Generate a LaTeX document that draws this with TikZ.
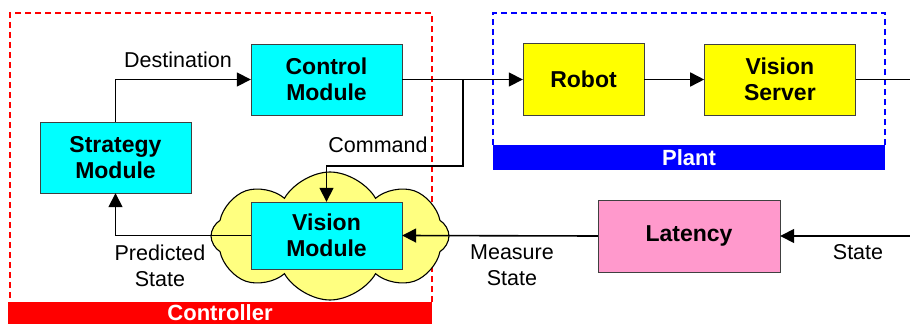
\documentclass[tikz,border=0pt]{standalone}
\usepackage{fontspec}
\setmainfont{Liberation Sans}
\usetikzlibrary{arrows.meta,positioning,shapes.symbols}
\definecolor{boxcyan}{RGB}{0,255,255}
\definecolor{boxyellow}{RGB}{255,255,0}
\definecolor{boxpink}{RGB}{255,153,204}
\definecolor{cloudyellow}{RGB}{255,255,128}
\definecolor{ctrlred}{RGB}{255,0,0}
\definecolor{plantblue}{RGB}{0,0,255}

\begin{document}
\begin{tikzpicture}[x=1pt,y=-1pt,
module/.style={draw=black!75,thin,fill=boxcyan,align=center,inner sep=0pt,minimum width=151pt,minimum height=71pt,font=\fontsize{23}{26}\selectfont\bfseries},
plantbox/.style={module,fill=boxyellow},
tag/.style={align=center,font=\fontsize{21.5}{26}\selectfont},
bar/.style={inner sep=0pt,text=white,font=\fontsize{22}{24}\selectfont\bfseries},
frame/.style={line width=1.1pt,dash pattern=on 6pt off 4pt},
arr/.style={-{Triangle[length=14pt,width=14pt]},line width=1.6pt},
wire/.style={line width=1.6pt}]
\useasboundingbox (0,0) rectangle (910,324);
% controller part
\draw[frame,ctrlred] (432,302) -- (432,13) -- (10,13) -- (10,302);
\node[bar,fill=ctrlred,minimum width=424pt,minimum height=22pt](ctrlbar) at (220,313){Controller};
\node[draw=black,line width=1.1pt,fill=cloudyellow,cloud,cloud puffs=8,cloud puff arc=120,aspect=2,minimum width=238pt,minimum height=128pt,inner sep=0pt](cloud) at (330,236){};
\node[module](control) at (326.5,79.5){Control\\Module};
\node[module](strategy) at (115.5,157.5){Strategy\\Module};
\node[module,minimum height=67pt](vision) at (326.5,235.5){Vision\\Module};
% plant part
\draw[frame,plantblue] (493,145) -- (493,13) -- (885,13) -- (885,145);
\node[bar,fill=plantblue,minimum width=392pt,minimum height=25pt](plantbar) at (689,157.5){Plant};
\node[plantbox,minimum width=121pt,minimum height=72pt](robot) at (583.5,79.5){Robot};
\node[plantbox,right=60pt of robot](server){Vision\\Server};
\node[module,fill=boxpink,minimum width=182pt,minimum height=72pt](latency) at (689,236){Latency};
\coordinate (split) at (463,79.5);
\coordinate (cmdturn) at (463,166);
\coordinate (vsout) at (910,79.5);
\coordinate (statein) at (910,236);
% connectors
\draw[arr](strategy.north) |- (control.west);
\draw[arr](control.east) -- (robot.west);
\draw[arr](split) -- (cmdturn) -| (vision.north);
\draw[arr](robot.east) -- (server.west);
\draw[wire](server.east) -- (vsout);
\draw[arr](statein) -- (latency.east);
\draw[arr](latency.west) -- (vision.east);
\draw[arr](vision.west) -| (strategy.south);
% labels
\node[tag](dest) at (178,60){Destination};
\node[tag](cmd) at (378,145){Command};
\node[tag](pred) at (160,265.5){Predicted\\State};
\node[tag](meas) at (512,265.5){Measure\\State};
\node[tag](state) at (858,252){State};
\end{tikzpicture}
\end{document}
